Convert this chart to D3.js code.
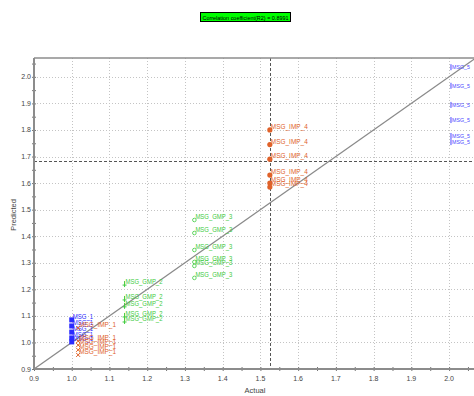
<!DOCTYPE html>
<html>
<head>
<meta charset="utf-8">
<script src="https://cdn.jsdelivr.net/npm/d3@7"></script>
<style>
  html, body { margin: 0; padding: 0; background: #fff; }
  svg { display: block; font-family: "Liberation Sans", Arial, sans-serif; }
</style>
</head>
<body>
<svg id="chart" width="474" height="396"></svg>
<script>
// ---- data ----
const groupNames = ["MSG_1", "MSG_IMP_1", "MSG_GMP_2", "MSG_GMP_3", "MSG_IMP_4", "MSG_5"];
const groupActual = [1.0, 1.017, 1.14, 1.325, 1.525, 2.005];
const predictedMSG1 = [1.085, 1.062, 1.039, 1.017, 1.002];
const predictedIMP1 = [1.054, 1.005, 0.99, 0.972, 0.953];
const predictedGMP2 = [1.216, 1.16, 1.134, 1.096, 1.077];
const predictedGMP3 = [1.461, 1.412, 1.348, 1.303, 1.288, 1.243];
const predictedIMP4 = [1.80, 1.745, 1.69, 1.63, 1.60, 1.585];
const predictedMSG5 = [2.025, 1.955, 1.883, 1.826, 1.766, 1.743];
const groupPredicted = [predictedMSG1, predictedIMP1, predictedGMP2, predictedGMP3, predictedIMP4, predictedMSG5];
const groupColors = ["#2b2bff", "#e0622a", "#3ecb3e", "#3ecb3e", "#e0622a", "#4a4aff"];
const groupMarkers = ["square", "cross", "plus", "circle", "dot", "bar"];

const axisTicks = [0.9, 1.0, 1.1, 1.2, 1.3, 1.4, 1.5, 1.6, 1.7, 1.8, 1.9, 2.0];
const tickLabels = ["0.9", "1.0", "1.1", "1.2", "1.3", "1.4", "1.5", "1.6", "1.7", "1.8", "1.9", "2.0"];
const meanActual = 1.525;
const meanPredicted = 1.684;
const r2Text = "Correlation coefficient(R2) = 0.8991";

// ---- layout ----
const svg = d3.select("#chart");
const plotLeft = 34, plotRight = 474, plotTop = 58, plotBottom = 369;
const x = d3.scaleLinear().domain([0.9, 2.066]).range([plotLeft, plotRight]);
const y = d3.scaleLinear().domain([0.9, 2.071]).range([plotBottom, plotTop]);

// grid
const grid = svg.append("g").attr("stroke", "#c4c4c4").attr("stroke-width", 1).attr("stroke-dasharray", "1,2");
grid.selectAll(".gx").data(axisTicks.slice(1)).join("line").attr("class", "gx")
  .attr("x1", d => Math.round(x(d)) + 0.5).attr("x2", d => Math.round(x(d)) + 0.5)
  .attr("y1", plotTop).attr("y2", plotBottom);
grid.selectAll(".gy").data(axisTicks.slice(1)).join("line").attr("class", "gy")
  .attr("x1", plotLeft).attr("x2", plotRight)
  .attr("y1", d => Math.round(y(d)) + 0.5).attr("y2", d => Math.round(y(d)) + 0.5);

// mean reference lines
svg.append("line")
  .attr("x1", Math.round(x(meanActual)) + 0.5).attr("x2", Math.round(x(meanActual)) + 0.5)
  .attr("y1", plotTop).attr("y2", plotBottom)
  .attr("stroke", "#555").attr("stroke-dasharray", "3,2");
svg.append("line")
  .attr("x1", plotLeft).attr("x2", plotRight)
  .attr("y1", Math.round(y(meanPredicted)) + 0.5).attr("y2", Math.round(y(meanPredicted)) + 0.5)
  .attr("stroke", "#555").attr("stroke-dasharray", "3,2");

// identity line
svg.append("defs").append("clipPath").attr("id", "plotClip")
  .append("rect").attr("x", plotLeft).attr("y", plotTop).attr("width", plotRight - plotLeft).attr("height", plotBottom - plotTop);
svg.append("line")
  .attr("clip-path", "url(#plotClip)")
  .attr("x1", x(0.9)).attr("y1", y(0.9)).attr("x2", x(2.1)).attr("y2", y(2.1))
  .attr("stroke", "#8a8a8a").attr("stroke-width", 1.3);

// small crossing tick marks every 0.05
const tickVals = d3.range(0.9, 2.07, 0.05);
const xAxis = d3.axisBottom(x).tickValues(tickVals).tickSizeInner(4).tickSizeOuter(0).tickFormat("");
const yAxis = d3.axisLeft(y).tickValues(tickVals).tickSizeInner(4).tickSizeOuter(0).tickFormat("");
const gx = svg.append("g").attr("transform", `translate(0,${plotBottom - 2})`).call(xAxis);
const gy = svg.append("g").attr("transform", `translate(${plotLeft + 2},0)`).call(yAxis);
[gx, gy].forEach(g => { g.select(".domain").remove(); g.selectAll(".tick line").attr("stroke", "#777"); });

// frame lines
svg.append("line").attr("x1", plotLeft).attr("x2", plotRight).attr("y1", plotTop).attr("y2", plotTop).attr("stroke", "#8c8c8c").attr("stroke-width", 1.5);
svg.append("line").attr("x1", plotLeft).attr("x2", plotLeft).attr("y1", plotTop).attr("y2", plotBottom).attr("stroke", "#8c8c8c").attr("stroke-width", 2);
svg.append("line").attr("x1", plotLeft).attr("x2", plotRight).attr("y1", plotBottom).attr("y2", plotBottom).attr("stroke", "#8c8c8c").attr("stroke-width", 2);

// tick labels
svg.append("g").selectAll("text").data(axisTicks).join("text")
  .attr("x", d => x(d)).attr("y", plotBottom + 12)
  .attr("text-anchor", "middle").attr("font-size", 7).attr("fill", "#444")
  .text((d, i) => tickLabels[i]);
svg.append("g").selectAll("text").data(axisTicks).join("text")
  .attr("x", plotLeft - 3).attr("y", d => y(d) + 2.5)
  .attr("text-anchor", "end").attr("font-size", 7).attr("fill", "#444")
  .text((d, i) => tickLabels[i]);

// axis titles
svg.append("text").attr("x", 255).attr("y", 393).attr("text-anchor", "middle")
  .attr("font-size", 7.5).attr("fill", "#444").text("Actual");
svg.append("text").attr("transform", "translate(16,215) rotate(-90)").attr("text-anchor", "middle")
  .attr("font-size", 7.5).attr("fill", "#444").text("Predicted");

// points and labels
const points = [];
groupNames.forEach((name, gi) => {
  groupPredicted[gi].forEach(p => points.push({ name, actual: groupActual[gi], predicted: p, color: groupColors[gi], marker: groupMarkers[gi] }));
});

const pg = svg.append("g");
points.forEach(d => {
  const px = x(d.actual), py = y(d.predicted);
  const c = d.color;
  if (d.marker === "square") {
    pg.append("rect").attr("x", px - 2.5).attr("y", py - 2.5).attr("width", 5).attr("height", 5).attr("fill", c);
  } else if (d.marker === "cross") {
    pg.append("path").attr("d", `M${px - 2},${py - 2}L${px + 2},${py + 2}M${px - 2},${py + 2}L${px + 2},${py - 2}`).attr("stroke", c);
  } else if (d.marker === "plus") {
    pg.append("path").attr("d", `M${px - 2},${py}L${px + 2},${py}M${px},${py - 4}L${px},${py + 2}`).attr("stroke", c);
  } else if (d.marker === "circle") {
    pg.append("circle").attr("cx", px).attr("cy", py).attr("r", 1.8).attr("fill", "none").attr("stroke", c).attr("stroke-width", 0.8);
  } else if (d.marker === "dot") {
    pg.append("circle").attr("cx", px).attr("cy", py).attr("r", 2.6).attr("fill", c);
  } else {
    pg.append("line").attr("x1", px).attr("x2", px).attr("y1", py - 6).attr("y2", py).attr("stroke", c);
  }
  const tx = px + 1;
  const label = pg.append("text").attr("x", tx).attr("y", py - 1)
    .attr("font-size", 7).attr("fill", c).text(d.name);
  // squeeze labels into ~4px per character; shrink the font for labels at the right edge
  const natural = label.node().getComputedTextLength();
  const room = 470 - tx;
  if (natural > room) {
    label.attr("font-size", 7 * room / natural);
  } else {
    label.attr("textLength", d.name.length * 4.1).attr("lengthAdjust", "spacingAndGlyphs");
  }
});

// correlation badge
const badge = svg.append("g");
badge.append("rect").attr("x", 200.5).attr("y", 12.5).attr("width", 90).attr("height", 9)
  .attr("fill", "#00ff00").attr("stroke", "#000").attr("stroke-width", 1);
badge.append("text").attr("x", 245.5).attr("y", 19.5).attr("text-anchor", "middle")
  .attr("font-size", 6.2).attr("fill", "#000").attr("textLength", 86).attr("lengthAdjust", "spacingAndGlyphs")
  .text(r2Text);
</script>
</body>
</html>
